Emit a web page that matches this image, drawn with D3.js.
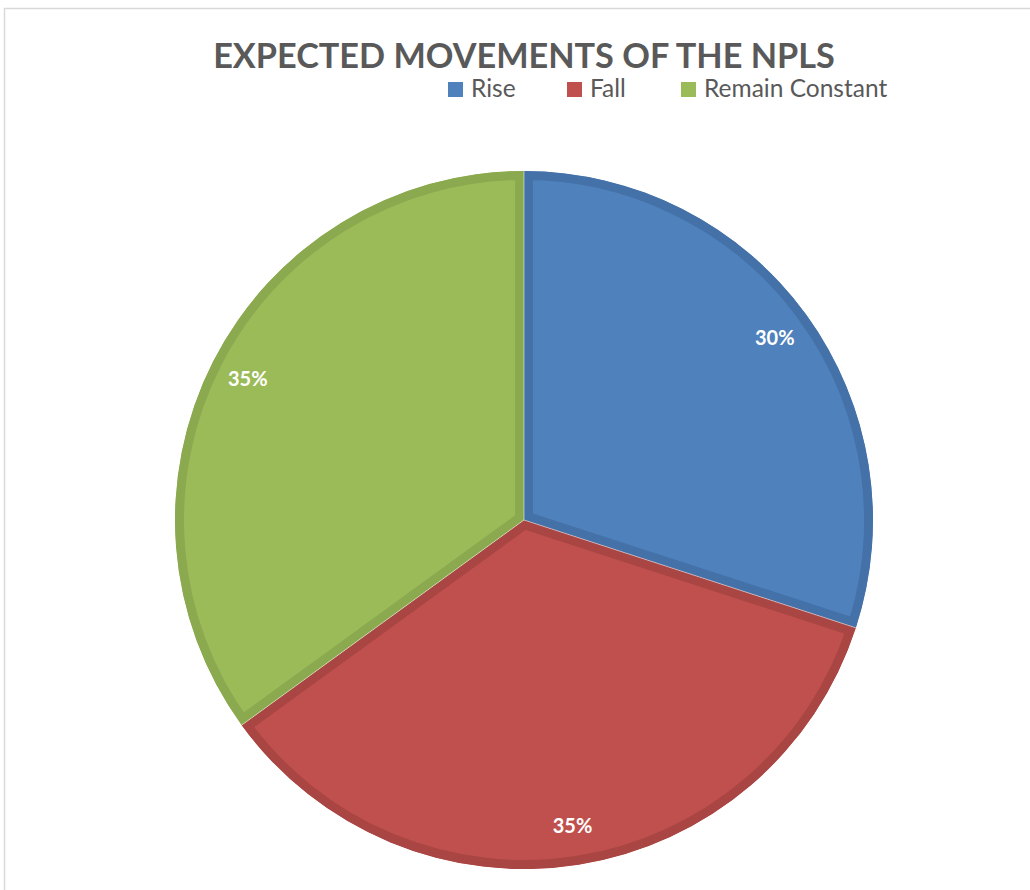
<!DOCTYPE html>
<html>
<head>
<meta charset="utf-8">
<script src="https://cdn.jsdelivr.net/npm/d3@7"></script>
<style>
  body { margin: 0; background: #fff; }
</style>
</head>
<body>
<div id="chart"></div>
<script>
// 数据
const categories = ['Rise', 'Fall', 'Remain Constant'];
const values = [30, 35, 35];
const labels = ['30%', '35%', '35%'];
const colors = ['#4F81BD', '#C0504D', '#9BBB59'];
const borderColors = ['#4472A8', '#A94542', '#8BA94F'];

const width = 1030, height = 890;
const svg = d3.select('#chart').append('svg')
  .attr('width', width)
  .attr('height', height);

// 外框
svg.append('path')
  .attr('d', `M4.5,${height} V8.5 H${width}`)
  .attr('fill', 'none')
  .attr('stroke', '#D9D9D9')
  .attr('stroke-width', 1.5);

// 标题
const title = svg.append('text')
  .attr('x', 524)
  .attr('y', 68)
  .attr('text-anchor', 'middle')
  .attr('font-family', 'Lato, "Open Sans", sans-serif')
  .attr('font-weight', 700)
  .attr('font-size', 36)
  .attr('fill', '#595959')
  .text('EXPECTED MOVEMENTS OF THE NPLS');
// 按参考宽度缩放
const tw = title.node().getComputedTextLength();
title.attr('font-size', 36 * 622 / tw);

// 图例
const legendX = [448, 567, 681];
const legendG = svg.append('g');
categories.forEach((c, i) => {
  const g = legendG.append('g').attr('transform', `translate(${legendX[i]}, 82)`);
  g.append('rect')
    .attr('width', 15).attr('height', 15)
    .attr('fill', colors[i]);
  g.append('text')
    .attr('x', 23).attr('y', 15)
    .attr('font-family', 'Lato, "Open Sans", sans-serif')
    .attr('font-size', 24.5)
    .attr('fill', '#595959')
    .text(c);
});

// 饼图
const cx = 524, cy = 520, r = 349;
const pie = d3.pie().sort(null).value(d => d)(values);
const arc = d3.arc().innerRadius(0).outerRadius(r);
const labelArc = d3.arc().innerRadius(310).outerRadius(310);

const pieG = svg.append('g').attr('transform', `translate(${cx}, ${cy})`);
const defs = svg.append('defs');
pie.forEach((d, i) => {
  defs.append('clipPath').attr('id', 'clip' + i)
    .append('path').attr('d', arc(d));
});

pieG.selectAll('path.slice')
  .data(pie)
  .join('path')
  .attr('class', 'slice')
  .attr('d', arc)
  .attr('fill', (_, i) => colors[i])
  .attr('stroke', (_, i) => borderColors[i])
  .attr('stroke-width', 18)
  .attr('clip-path', (_, i) => `url(#clip${i})`);

// 扇区间的细亮线
pieG.selectAll('line.sep')
  .data(pie)
  .join('line')
  .attr('class', 'sep')
  .attr('x1', 0).attr('y1', 0)
  .attr('x2', d => r * Math.sin(d.startAngle))
  .attr('y2', d => -r * Math.cos(d.startAngle))
  .attr('stroke', '#ffffff')
  .attr('stroke-opacity', 0.5)
  .attr('stroke-width', 1);

// 数据标签
pieG.selectAll('text.label')
  .data(pie)
  .join('text')
  .attr('class', 'label')
  .attr('transform', d => `translate(${labelArc.centroid(d)})`)
  .attr('text-anchor', 'middle')
  .attr('dy', '0.35em')
  .attr('font-family', 'Lato, "Open Sans", sans-serif')
  .attr('font-weight', 700)
  .attr('font-size', 20)
  .attr('fill', '#ffffff')
  .text((_, i) => labels[i]);
</script>
</body>
</html>
